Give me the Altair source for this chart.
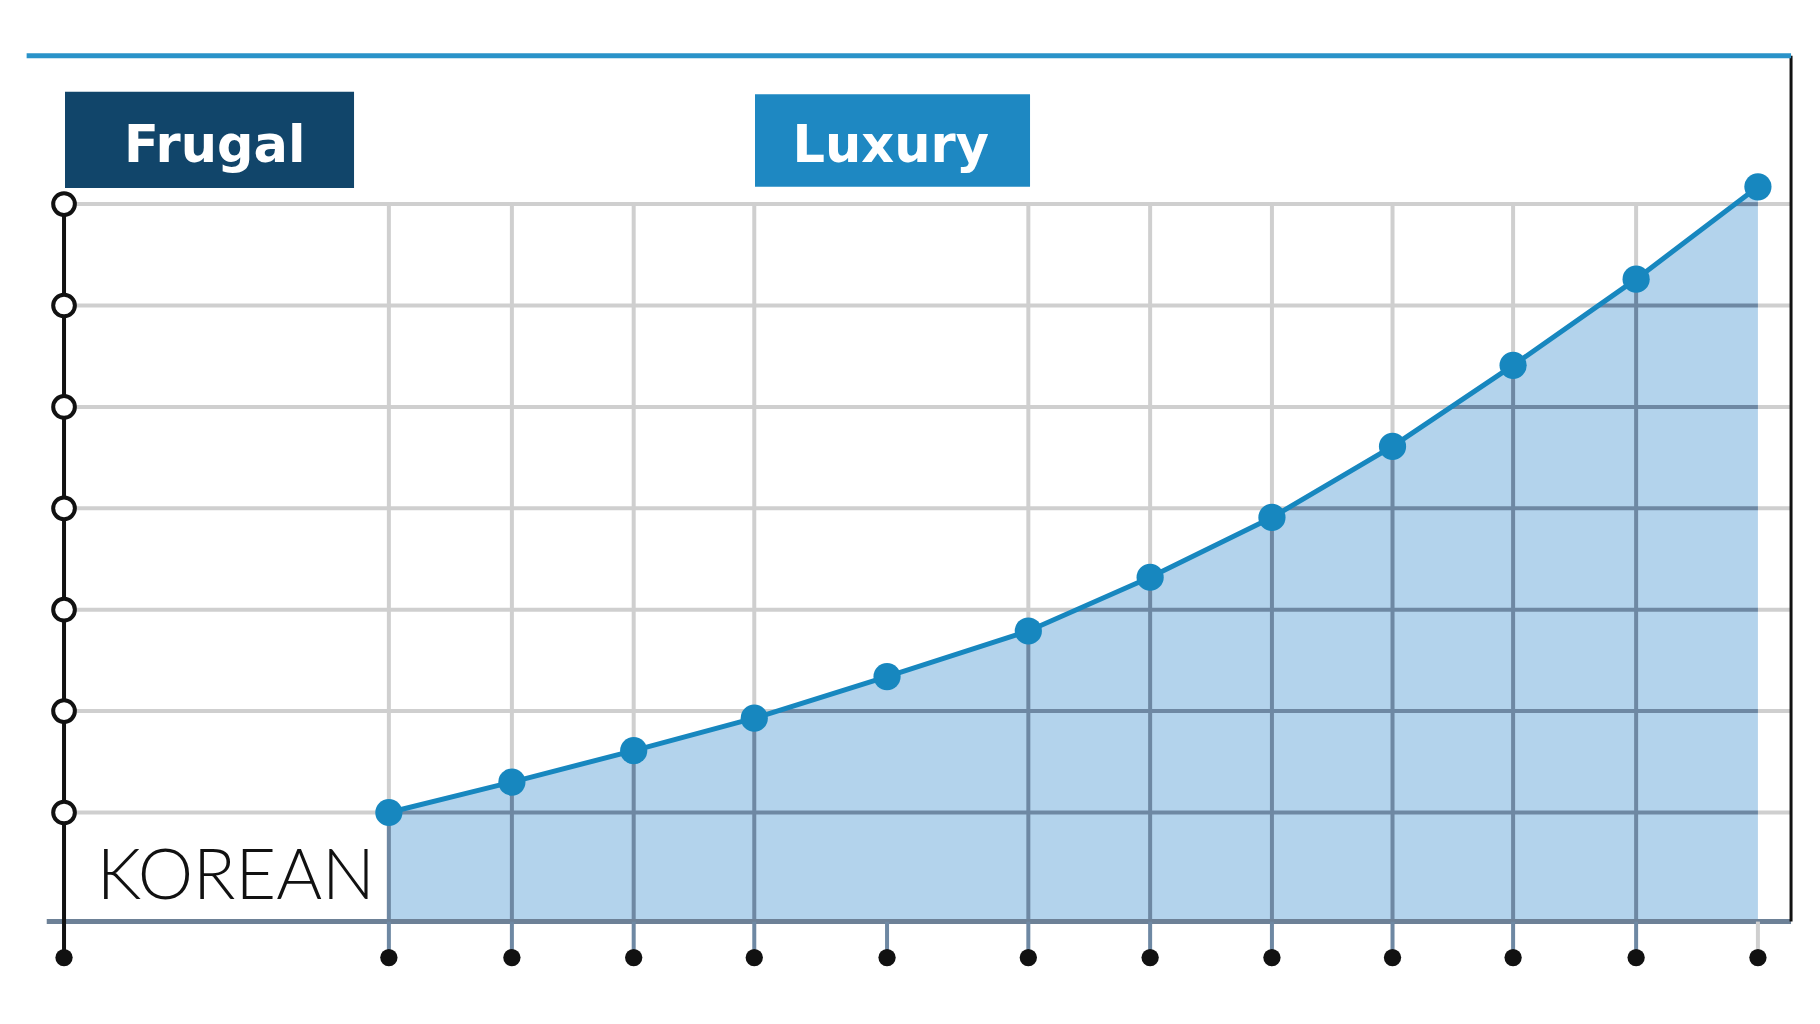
import altair as alt
import pandas as pd
import numpy as np

# ---- data ----
x_vals = [1.0, 2.01, 3.01, 4.0, 5.09, 6.25, 7.25, 8.25, 9.24, 10.23, 11.24, 12.24]
y_vals = [1.0, 1.30, 1.61, 1.93, 2.34, 2.79, 3.32, 3.91, 4.61, 5.41, 6.26, 7.17]
has_grid = [True, True, True, True, False, True, True, True, True, True, True, False]
levels = [1, 2, 3, 4, 5, 6, 7]
box_labels = ["Frugal", "Luxury"]
corner_label = "KOREAN"

# ---- layout constants (in scale units) ----
X_DOMAIN = [-2.127, 12.684]
Y_DOMAIN = [-1.007, 8.934]
BASE = -0.076
DOT_Y = -0.431
AXIS_X = -1.667
RIGHT_X = 12.512
TOP_Y = 8.464
TOP_LEFT = -1.974
BASE_LEFT = -1.809

BLUE = "#1787bf"
AREA = "#b3d3ec"
DARK_GRID = "#6e88a3"
LIGHT_GRID = "#cfcfcf"

xs = alt.Scale(domain=X_DOMAIN, nice=False, zero=False)
ys = alt.Scale(domain=Y_DOMAIN, nice=False, zero=False)


def X(f="x"):
    return alt.X(f + ":Q", scale=xs, axis=None)


def Y(f="y"):
    return alt.Y(f + ":Q", scale=ys, axis=None)


pts = pd.DataFrame({"x": x_vals, "y": y_vals, "grid": has_grid})
pts["base"] = BASE
pts["dot"] = DOT_Y
pts["top"] = levels[-1]
pts["tick_color"] = [DARK_GRID if i < len(x_vals) - 1 else LIGHT_GRID for i in range(len(x_vals))]
grid_pts = pts[pts["grid"]]

# light horizontal grid
hgrid = pd.DataFrame({"y": levels, "x": AXIS_X, "x2": RIGHT_X})
light_h = alt.Chart(hgrid).mark_rule(color=LIGHT_GRID, strokeWidth=4).encode(
    x=X(), x2="x2:Q", y=Y())
light_v = alt.Chart(grid_pts).mark_rule(color=LIGHT_GRID, strokeWidth=4).encode(
    x=X(), y=Y("top"), y2="base:Q")

area = alt.Chart(pts).mark_area(color=AREA, opacity=1).encode(
    x=X(), y=Y(), y2="base:Q")

dark_v = alt.Chart(grid_pts).mark_rule(color=DARK_GRID, strokeWidth=4).encode(
    x=X(), y=Y("base"), y2="y:Q")

# horizontal dark segments inside the area: from where the line crosses each level
cross = np.interp(levels, y_vals, x_vals)
dh = pd.DataFrame({"y": levels, "x": cross, "x2": x_vals[-1]})
dark_h = alt.Chart(dh).mark_rule(color=DARK_GRID, strokeWidth=4).encode(
    x=X(), x2="x2:Q", y=Y())

bottom_axis = alt.Chart(pd.DataFrame({"y": [BASE], "x": [BASE_LEFT], "x2": [RIGHT_X]})).mark_rule(
    color="#6d8197", strokeWidth=5).encode(x=X(), x2="x2:Q", y=Y())

ticks = alt.Chart(pts).mark_rule(strokeWidth=4).encode(
    x=X(), y=Y("base"), y2="dot:Q", color=alt.Color("tick_color:N", scale=None))

line = alt.Chart(pts).mark_line(color=BLUE, strokeWidth=5).encode(x=X(), y=Y())
points = alt.Chart(pts).mark_circle(color=BLUE, size=740, opacity=1).encode(x=X(), y=Y())

yaxis_line = alt.Chart(pd.DataFrame({"x": [AXIS_X], "y": [levels[-1]], "y2": [DOT_Y]})).mark_rule(
    color="#111111", strokeWidth=4).encode(x=X(), y=Y(), y2="y2:Q")

open_c = alt.Chart(pd.DataFrame({"x": AXIS_X, "y": levels})).mark_point(
    shape="circle", filled=True, fill="white", stroke="#111111", strokeWidth=4,
    size=470, opacity=1).encode(x=X(), y=Y())

dots_df = pd.DataFrame({"x": [AXIS_X] + x_vals, "y": DOT_Y})
dots = alt.Chart(dots_df).mark_circle(color="#111111", size=300, opacity=1).encode(x=X(), y=Y())

right_border = alt.Chart(pd.DataFrame({"x": [RIGHT_X], "y": [TOP_Y], "y2": [BASE]})).mark_rule(
    color="#111111", strokeWidth=3).encode(x=X(), y=Y(), y2="y2:Q")

top_line = alt.Chart(pd.DataFrame({"x": [TOP_LEFT], "x2": [RIGHT_X], "y": [TOP_Y]})).mark_rule(
    color="#2a93c9", strokeWidth=5).encode(x=X(), x2="x2:Q", y=Y())

boxes_df = pd.DataFrame({
    "label": box_labels,
    "x": [-1.659, 4.006], "x2": [0.714, 6.264],
    "y": [8.109, 8.083], "y2": [7.159, 7.172],
    "fill": ["#11456a", "#1e88c2"],
    "tx": [-0.43, 5.12], "ty": [7.418, 7.418],
})
boxes = alt.Chart(boxes_df).mark_rect(opacity=1).encode(
    x=X(), x2="x2:Q", y=Y(), y2="y2:Q", color=alt.Color("fill:N", scale=None))
box_text = alt.Chart(boxes_df).mark_text(
    font="DejaVu Sans", fontWeight="bold", fontSize=51, color="white",
    align="center", baseline="alphabetic").encode(x=X("tx"), y=Y("ty"), text="label:N")

korean = alt.Chart(pd.DataFrame({"x": [-1.399], "y": [0.144], "t": [corner_label]})).mark_text(
    font="Lato", fontWeight=300, fontSize=70, color="#111111",
    align="left", baseline="alphabetic").encode(x=X(), y=Y(), text="t:N")

chart = alt.layer(
    light_h, light_v, area, dark_v, dark_h, bottom_axis, ticks, line, points,
    yaxis_line, open_c, dots, right_border, top_line, boxes, box_text, korean
).properties(
    width=1804, height=1008, autosize=alt.AutoSizeParams(type="none"), padding=0,
    background="white"
).configure_view(stroke=None)

chart.save("out.html", embed_options={"renderer": "svg", "actions": False})
